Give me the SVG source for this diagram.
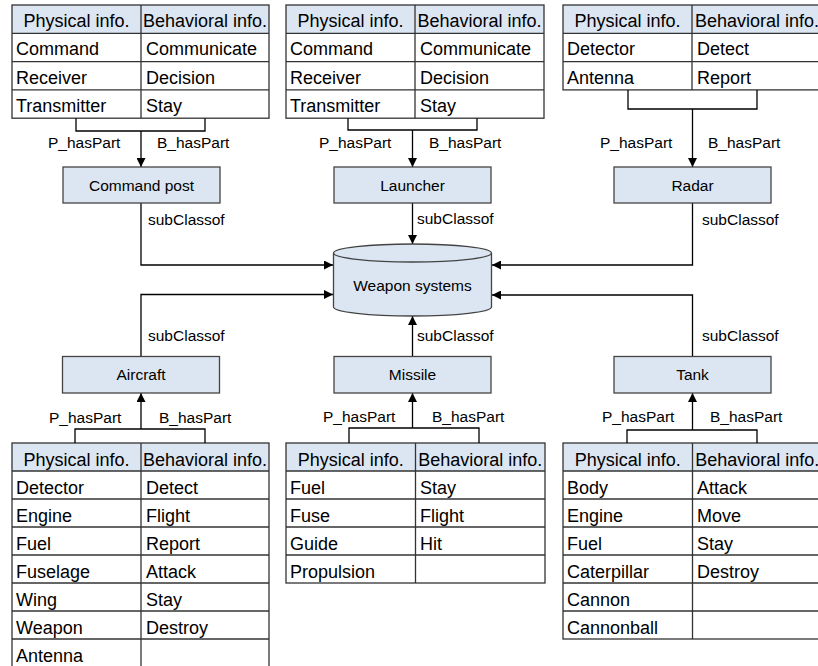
<svg xmlns="http://www.w3.org/2000/svg" width="818" height="666" viewBox="0 0 818 666">
<defs>
<marker id="ah" viewBox="0 0 10 10" refX="10" refY="5" markerWidth="9" markerHeight="9" markerUnits="userSpaceOnUse" orient="auto">
<path d="M0,0 L10,5 L0,10 z" fill="#000"/>
</marker>
<style>
text{font-family:"Liberation Sans",Arial,sans-serif;fill:#000}
.tt{font-size:18px}
.hd{font-size:18px;text-anchor:middle}
.lb{font-size:15.5px}
.nt{font-size:15.5px;text-anchor:middle}
.hdr{fill:#dce6f2;stroke:none}
.tb{fill:none;stroke:#333;stroke-width:1.3}
.tl{stroke:#333;stroke-width:1.3}
.node{fill:#dce6f2;stroke:#444;stroke-width:1.3}
.cn{fill:none;stroke:#000;stroke-width:1.3}
.ar{fill:none;stroke:#000;stroke-width:1.3;marker-end:url(#ah)}
</style>
</defs>
<rect width="818" height="666" fill="#fff"/>

<!-- Tables -->
<g id="table-commandpost">
<rect class="hdr" x="12" y="5" width="257" height="28.3"/>
<rect class="tb" x="12" y="5" width="257" height="113.2"/>
<line class="tl" x1="12" y1="33.3" x2="269" y2="33.3"/>
<line class="tl" x1="12" y1="61.6" x2="269" y2="61.6"/>
<line class="tl" x1="12" y1="89.9" x2="269" y2="89.9"/>
<line class="tl" x1="141" y1="5" x2="141" y2="118.2"/>
<text class="hd" x="76.5" y="27">Physical info.</text>
<text class="hd" x="205" y="27">Behavioral info.</text>
<text class="tt" x="16" y="55.3">Command</text><text class="tt" x="146" y="55.3">Communicate</text>
<text class="tt" x="16" y="83.6">Receiver</text><text class="tt" x="146" y="83.6">Decision</text>
<text class="tt" x="16" y="111.9">Transmitter</text><text class="tt" x="146" y="111.9">Stay</text>
</g>

<g id="table-launcher">
<rect class="hdr" x="286" y="5" width="258" height="28.3"/>
<rect class="tb" x="286" y="5" width="258" height="113.2"/>
<line class="tl" x1="286" y1="33.3" x2="544" y2="33.3"/>
<line class="tl" x1="286" y1="61.6" x2="544" y2="61.6"/>
<line class="tl" x1="286" y1="89.9" x2="544" y2="89.9"/>
<line class="tl" x1="415" y1="5" x2="415" y2="118.2"/>
<text class="hd" x="350.5" y="27">Physical info.</text>
<text class="hd" x="479.5" y="27">Behavioral info.</text>
<text class="tt" x="290" y="55.3">Command</text><text class="tt" x="420" y="55.3">Communicate</text>
<text class="tt" x="290" y="83.6">Receiver</text><text class="tt" x="420" y="83.6">Decision</text>
<text class="tt" x="290" y="111.9">Transmitter</text><text class="tt" x="420" y="111.9">Stay</text>
</g>

<g id="table-radar">
<rect class="hdr" x="563" y="5" width="259" height="28.3"/>
<rect class="tb" x="563" y="5" width="259" height="84.9"/>
<line class="tl" x1="563" y1="33.3" x2="822" y2="33.3"/>
<line class="tl" x1="563" y1="61.6" x2="822" y2="61.6"/>
<line class="tl" x1="692" y1="5" x2="692" y2="89.9"/>
<text class="hd" x="627.5" y="27">Physical info.</text>
<text class="hd" x="757" y="27">Behavioral info.</text>
<text class="tt" x="567" y="55.3">Detector</text><text class="tt" x="697" y="55.3">Detect</text>
<text class="tt" x="567" y="83.6">Antenna</text><text class="tt" x="697" y="83.6">Report</text>
</g>

<g id="table-aircraft">
<rect class="hdr" x="12" y="443" width="257" height="28"/>
<rect class="tb" x="12" y="443" width="257" height="224"/>
<line class="tl" x1="12" y1="471" x2="269" y2="471"/>
<line class="tl" x1="12" y1="499" x2="269" y2="499"/>
<line class="tl" x1="12" y1="527" x2="269" y2="527"/>
<line class="tl" x1="12" y1="555" x2="269" y2="555"/>
<line class="tl" x1="12" y1="583" x2="269" y2="583"/>
<line class="tl" x1="12" y1="611" x2="269" y2="611"/>
<line class="tl" x1="12" y1="639" x2="269" y2="639"/>
<line class="tl" x1="141" y1="443" x2="141" y2="667"/>
<text class="hd" x="76.5" y="466">Physical info.</text>
<text class="hd" x="205" y="466">Behavioral info.</text>
<text class="tt" x="16" y="494">Detector</text><text class="tt" x="146" y="494">Detect</text>
<text class="tt" x="16" y="522">Engine</text><text class="tt" x="146" y="522">Flight</text>
<text class="tt" x="16" y="550">Fuel</text><text class="tt" x="146" y="550">Report</text>
<text class="tt" x="16" y="578">Fuselage</text><text class="tt" x="146" y="578">Attack</text>
<text class="tt" x="16" y="606">Wing</text><text class="tt" x="146" y="606">Stay</text>
<text class="tt" x="16" y="634">Weapon</text><text class="tt" x="146" y="634">Destroy</text>
<text class="tt" x="16" y="662">Antenna</text>
</g>

<g id="table-missile">
<rect class="hdr" x="286" y="443" width="259" height="28"/>
<rect class="tb" x="286" y="443" width="259" height="140"/>
<line class="tl" x1="286" y1="471" x2="545" y2="471"/>
<line class="tl" x1="286" y1="499" x2="545" y2="499"/>
<line class="tl" x1="286" y1="527" x2="545" y2="527"/>
<line class="tl" x1="286" y1="555" x2="545" y2="555"/>
<line class="tl" x1="415.5" y1="443" x2="415.5" y2="583"/>
<text class="hd" x="350.7" y="466">Physical info.</text>
<text class="hd" x="480.2" y="466">Behavioral info.</text>
<text class="tt" x="290" y="494">Fuel</text><text class="tt" x="420" y="494">Stay</text>
<text class="tt" x="290" y="522">Fuse</text><text class="tt" x="420" y="522">Flight</text>
<text class="tt" x="290" y="550">Guide</text><text class="tt" x="420" y="550">Hit</text>
<text class="tt" x="290" y="578">Propulsion</text>
</g>

<g id="table-tank">
<rect class="hdr" x="563" y="443" width="259" height="28"/>
<rect class="tb" x="563" y="443" width="259" height="196"/>
<line class="tl" x1="563" y1="471" x2="822" y2="471"/>
<line class="tl" x1="563" y1="499" x2="822" y2="499"/>
<line class="tl" x1="563" y1="527" x2="822" y2="527"/>
<line class="tl" x1="563" y1="555" x2="822" y2="555"/>
<line class="tl" x1="563" y1="583" x2="822" y2="583"/>
<line class="tl" x1="563" y1="611" x2="822" y2="611"/>
<line class="tl" x1="692.5" y1="443" x2="692.5" y2="639"/>
<text class="hd" x="627.7" y="466">Physical info.</text>
<text class="hd" x="757.2" y="466">Behavioral info.</text>
<text class="tt" x="567" y="494">Body</text><text class="tt" x="697" y="494">Attack</text>
<text class="tt" x="567" y="522">Engine</text><text class="tt" x="697" y="522">Move</text>
<text class="tt" x="567" y="550">Fuel</text><text class="tt" x="697" y="550">Stay</text>
<text class="tt" x="567" y="578">Caterpillar</text><text class="tt" x="697" y="578">Destroy</text>
<text class="tt" x="567" y="606">Cannon</text>
<text class="tt" x="567" y="634">Cannonball</text>
</g>

<!-- Connectors -->
<g id="connectors">
<path class="cn" d="M76,118.2 V131 H205 V118.2"/>
<path class="ar" d="M141,131 V167"/>
<path class="cn" d="M348,118.2 V130 H477 V118.2"/>
<path class="ar" d="M412.5,130 V167"/>
<path class="cn" d="M628,89.9 V109 H757 V89.9"/>
<path class="ar" d="M692.5,109 V167"/>

<path class="ar" d="M141,203 V265 H333"/>
<path class="ar" d="M412.5,203 V244"/>
<path class="ar" d="M692.5,203 V265 H492"/>
<path class="ar" d="M141,356 V294.5 H333"/>
<path class="ar" d="M412.5,356 V316"/>
<path class="ar" d="M692.5,356 V295 H492"/>

<path class="cn" d="M75,443 V429 H205 V443"/>
<path class="ar" d="M141,429 V393"/>
<path class="cn" d="M349,443 V428 H479 V443"/>
<path class="ar" d="M412.5,428 V393"/>
<path class="cn" d="M627,443 V430 H757 V443"/>
<path class="ar" d="M692.5,430 V393"/>

<text class="lb" x="48" y="148">P_hasPart</text>
<text class="lb" x="157" y="148">B_hasPart</text>
<text class="lb" x="319" y="148">P_hasPart</text>
<text class="lb" x="429" y="148">B_hasPart</text>
<text class="lb" x="600" y="148">P_hasPart</text>
<text class="lb" x="708" y="148">B_hasPart</text>

<text class="lb" x="148" y="225">subClassof</text>
<text class="lb" x="417" y="224">subClassof</text>
<text class="lb" x="702" y="225">subClassof</text>
<text class="lb" x="148" y="341">subClassof</text>
<text class="lb" x="417" y="341">subClassof</text>
<text class="lb" x="702" y="341">subClassof</text>

<text class="lb" x="49" y="423">P_hasPart</text>
<text class="lb" x="159" y="423">B_hasPart</text>
<text class="lb" x="323" y="422">P_hasPart</text>
<text class="lb" x="432" y="422">B_hasPart</text>
<text class="lb" x="602" y="422">P_hasPart</text>
<text class="lb" x="710" y="422">B_hasPart</text>
</g>

<!-- Nodes -->
<g id="node-commandpost"><rect class="node" x="63" y="167" width="157" height="36"/><text class="nt" x="141.5" y="190.5">Command post</text></g>
<g id="node-launcher"><rect class="node" x="334" y="167" width="157" height="36"/><text class="nt" x="412.5" y="190.5">Launcher</text></g>
<g id="node-radar"><rect class="node" x="614" y="167" width="157" height="36"/><text class="nt" x="692.5" y="190.5">Radar</text></g>
<g id="node-aircraft"><rect class="node" x="62.5" y="356.5" width="157" height="36.5"/><text class="nt" x="141" y="380">Aircraft</text></g>
<g id="node-missile"><rect class="node" x="334" y="356.5" width="157" height="36.5"/><text class="nt" x="412.5" y="380">Missile</text></g>
<g id="node-tank"><rect class="node" x="614" y="356.5" width="157" height="36.5"/><text class="nt" x="692.5" y="380">Tank</text></g>

<g id="node-weaponsystems">
<path class="node" d="M333.5,253 V307 A79,9 0 0 0 491.5,307 V253 A79,9 0 0 0 333.5,253 Z"/>
<path fill="none" stroke="#444" stroke-width="1.3" d="M333.5,253 A79,9 0 0 0 491.5,253"/>
<text class="nt" x="412.5" y="291">Weapon systems</text>
</g>
</svg>
